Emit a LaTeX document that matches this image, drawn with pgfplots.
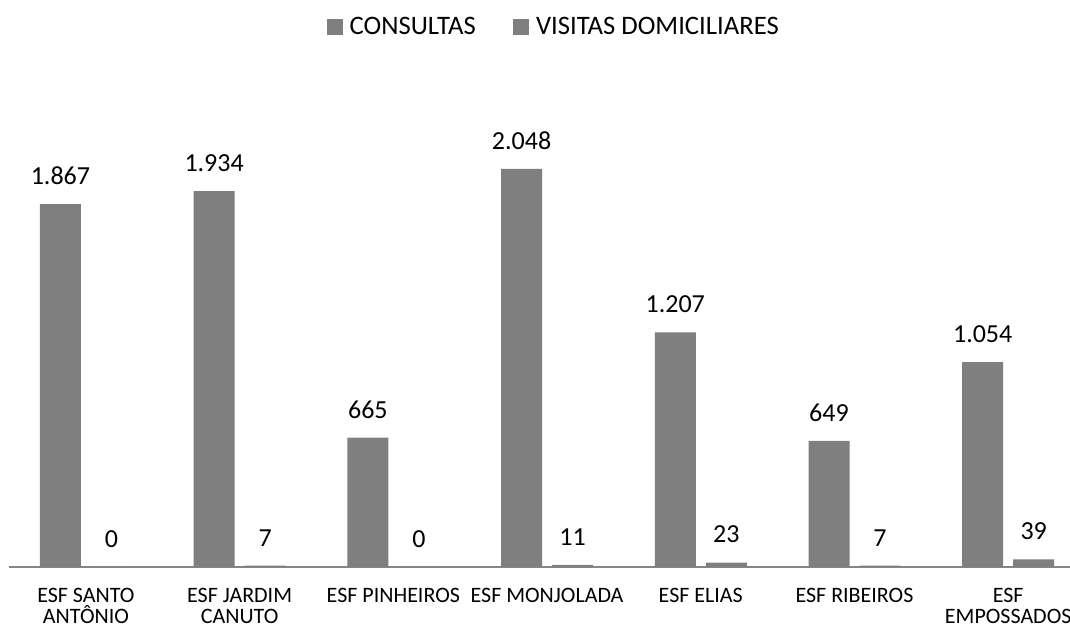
\documentclass[border=0pt]{standalone}
\usepackage{pgfplots}
\pgfplotsset{compat=1.18}
\usepackage{fontspec}
\setmainfont{Carlito}
\definecolor{bargray}{RGB}{127,127,127}
\definecolor{axgray}{RGB}{134,134,134}
\begin{document}
\begin{tikzpicture}
\useasboundingbox (0,0) rectangle (802.5pt,471pt);
\begin{axis}[
  at={(6.8pt,45.75pt)}, anchor=south west,
  scale only axis, width=807pt, height=364.5pt,
  xmin=-0.5, xmax=6.5, ymin=0, ymax=2500,
  ybar=7.5pt, bar width=30.75pt,
  axis x line*=bottom, axis y line=none,
  x axis line style={-, color=axgray, line width=1.2pt},
  xtick={0,1,2,3,4,5,6},
  xticklabels={ESF SANTO\\ANTÔNIO, ESF JARDIM\\CANUTO, ESF PINHEIROS, ESF MONJOLADA, ESF ELIAS, ESF RIBEIROS, ESF\\EMPOSSADOS},
  xticklabel style={align=center, font=\fontsize{16.5}{16}\selectfont, inner sep=0pt, anchor=north, yshift=-15.6pt},
  major tick length=0pt,
  ytick=\empty,
  point meta=explicit symbolic,
  nodes near coords,
  every node near coord/.append style={font=\fontsize{19.5}{19.5}\selectfont, inner sep=0pt, anchor=south, yshift=14.4pt, text=black},
  legend columns=2,
  legend style={at={(0.507,1.111)}, anchor=center, draw=none, fill=none,
    font=\fontsize{20}{20}\selectfont, inner sep=0pt,
    /tikz/every even column/.append style={column sep=25.5pt},
    nodes={inner sep=2.6pt}},
  legend image code/.code={\fill[bargray] (0pt,-5.9pt) rectangle (11.8pt,5.9pt); \path (0pt,0pt) -- (14.5pt,0pt);},
  clip=false,
]
\addplot[fill=bargray, draw=none]
  coordinates {(0,1867) [1.867] (1,1934) [1.934] (2,665) [665] (3,2048) [2.048] (4,1207) [1.207] (5,649) [649] (6,1054) [1.054]};
\addlegendentry{CONSULTAS}
\addplot[fill=bargray, draw=none]
  coordinates {(0,0) [0] (1,7) [7] (2,0) [0] (3,11) [11] (4,23) [23] (5,7) [7] (6,39) [39]};
\addlegendentry{VISITAS DOMICILIARES}
\end{axis}
\end{tikzpicture}
\end{document}
